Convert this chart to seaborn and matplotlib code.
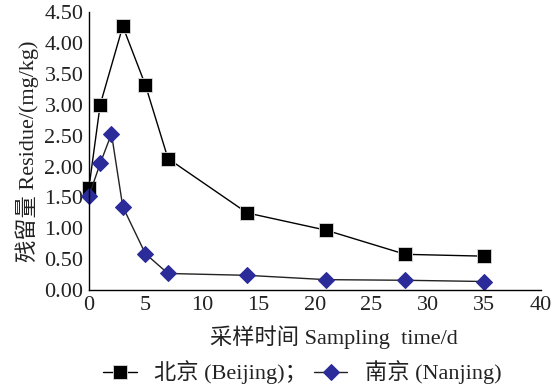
import numpy as np
import pandas as pd
import matplotlib.pyplot as plt
import seaborn as sns
from matplotlib.ticker import FormatStrFormatter

days_bj = [0, 1, 3, 5, 7, 14, 21, 28, 35]
res_bj = [1.65, 3.00, 4.27, 3.32, 2.13, 1.25, 0.97, 0.58, 0.55]
days_nj = [0, 1, 2, 3, 5, 7, 14, 21, 28, 35]
res_nj = [1.52, 2.05, 2.53, 1.35, 0.59, 0.27, 0.24, 0.17, 0.16, 0.14]

sns.set_style("white")
plt.rcParams['font.family'] = ['Liberation Serif', 'Noto Sans CJK SC']
plt.rcParams['font.size'] = 16

fig = plt.figure(figsize=(5.52, 3.90), dpi=100)
ax = fig.add_axes([0.161, 0.256, 0.819, 0.713])

sns.lineplot(x=days_bj, y=res_bj, ax=ax, color='black', lw=1.0, marker='s',
             markersize=9.5, markerfacecolor='black', markeredgecolor='#dddddd',
             markeredgewidth=0.6, label='北京 (Beijing)；', clip_on=False)
sns.lineplot(x=days_nj, y=res_nj, ax=ax, color='#222222', lw=1.0, marker='D',
             markersize=8, markerfacecolor='#2b2b9a', markeredgecolor='#2b2b9a',
             label='南京 (Nanjing)', clip_on=False)

ax.set_xlim(0, 40)
ax.set_ylim(0, 4.5)
ax.set_xticks(np.arange(0, 41, 5))
ax.set_yticks(np.arange(0, 4.51, 0.5))
ax.yaxis.set_major_formatter(FormatStrFormatter('%.2f'))
ax.tick_params(direction='in', length=4, width=1, color='black', labelsize=16,
               labelcolor='#222222', pad=4)
for s in ['top', 'right']:
    ax.spines[s].set_visible(False)
for s in ['left', 'bottom']:
    ax.spines[s].set_color('black')
    ax.spines[s].set_linewidth(1.0)

ax.set_xlabel('采样时间 Sampling  time/d', fontsize=16, color='#222222')
ax.xaxis.set_label_coords(0.542, -0.125)
ax.set_ylabel('残留量 Residue/(mg/kg)', fontsize=16, color='#222222', labelpad=4)

h, l = ax.get_legend_handles_labels()
ax.get_legend().remove()
fig.legend(h, l, ncol=2, loc='center', bbox_to_anchor=(0.548, 0.045), frameon=False,
           fontsize=16, handlelength=1.5, columnspacing=0.3, handletextpad=0.8,
           labelcolor='#222222')

fig.savefig('out.png', dpi=100, facecolor='white')
